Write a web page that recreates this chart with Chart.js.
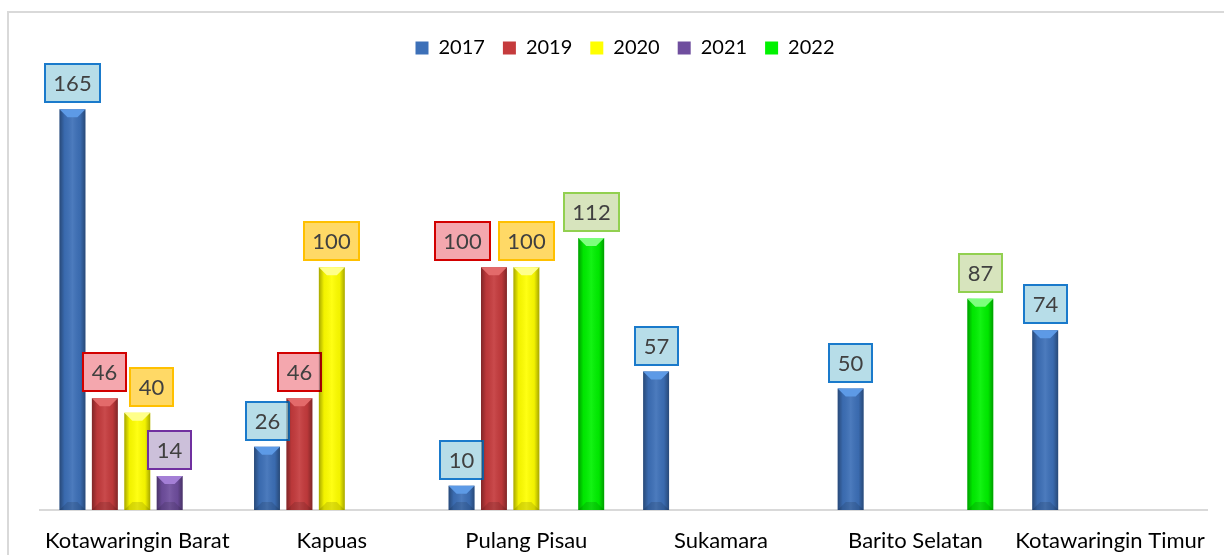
<!DOCTYPE html>
<html>
<head>
<meta charset="utf-8">
<script src="https://cdn.jsdelivr.net/npm/chart.js@4.4.0/dist/chart.umd.min.js"></script>
<style>
  html, body { margin: 0; padding: 0; background: #fff; }
  #wrap { position: relative; width: 1224px; height: 555px; overflow: hidden; }
  #frame { position: absolute; left: 7px; top: 11px; width: 1300px; height: 700px;
           border-left: 2px solid #d9d9d9; border-top: 2px solid #d9d9d9; }
  #mycanvas { position: absolute; left: 0; top: 0; }
</style>
</head>
<body>
<div id="wrap">
  <div id="frame"></div>
  <canvas id="mycanvas" width="1224" height="555"></canvas>
</div>
<script>
// data
var regions = ["Kotawaringin Barat", "Kapuas", "Pulang Pisau", "Sukamara", "Barito Selatan", "Kotawaringin Timur"];
var years = ["2017", "2019", "2020", "2021", "2022"];
var v2017 = [165, 26, 10, 57, 50, 74];
var v2019 = [46, 46, 100, null, null, null];
var v2020 = [40, 100, 100, null, null, null];
var v2021 = [14, null, null, null, null, null];
var v2022 = [null, null, 112, null, 87, null];

// warna batang + kotak label
var barColors = ["#3d70b8", "#c53b3d", "#ffff00", "#6f4e9e", "#00f200"];
var bevelColors = ["#5d9ae6", "#e36a6a", "#ffff8a", "#a47fd6", "#7dff7d"];
var boxFill = ["#b7dde8", "#f4a7ae", "#ffd966", "#ccc0da", "#d7e4bd"];
var boxLine = ["#1a7acb", "#d20000", "#ffc000", "#7030a0", "#92d050"];

var series = [v2017, v2019, v2020, v2021, v2022];
var datasets = [];
for (var i in series) {
  datasets.push({
    label: years[i],
    data: series[i],
    backgroundColor: barColors[i],
    borderWidth: 0,
    barPercentage: 0.8,
    categoryPercentage: 0.833
  });
}

var fontName = "Lato, 'Liberation Sans', sans-serif";

// beberapa label digeser supaya tidak menumpuk (seperti di excel)
function labelShift(di, j) {
  if (di === 1 && j === 2) return -31;
  if (di === 2 && j === 0) return 14;
  return 0;
}

// efek 3D sederhana + kotak nilai di atas batang
var barDecor = {
  id: 'barDecor',
  afterDatasetsDraw: function(chart) {
    var ctx = chart.ctx;
    chart.data.datasets.forEach(function(ds, di) {
      var meta = chart.getDatasetMeta(di);
      meta.data.forEach(function(bar, j) {
        if (ds.data[j] === null) return;
        var x = bar.x, y = bar.y, w = bar.width, b = bar.base;
        var l = x - w / 2, r = x + w / 2;
        var bv = Math.min(8, (b - y) / 2);
        ctx.save();
        // sisi gelap kiri/kanan
        var g = ctx.createLinearGradient(l, 0, r, 0);
        g.addColorStop(0, 'rgba(0,0,0,0.35)');
        g.addColorStop(0.2, 'rgba(0,0,0,0.05)');
        g.addColorStop(0.5, 'rgba(255,255,255,0.08)');
        g.addColorStop(0.8, 'rgba(0,0,0,0.05)');
        g.addColorStop(1, 'rgba(0,0,0,0.35)');
        ctx.fillStyle = g;
        ctx.fillRect(l, y, w, b - y);
        // bevel atas
        ctx.fillStyle = bevelColors[di];
        ctx.beginPath();
        ctx.moveTo(l, y);
        ctx.lineTo(r, y);
        ctx.lineTo(r - bv, y + bv);
        ctx.lineTo(l + bv, y + bv);
        ctx.closePath();
        ctx.fill();
        // bawah agak gelap
        ctx.fillStyle = 'rgba(0,0,0,0.12)';
        ctx.beginPath();
        ctx.moveTo(l, b);
        ctx.lineTo(r, b);
        ctx.lineTo(r - bv, b - bv);
        ctx.lineTo(l + bv, b - bv);
        ctx.closePath();
        ctx.fill();

        // kotak label
        var txt = String(ds.data[j]);
        ctx.font = "22px " + fontName;
        var tw = ctx.measureText(txt).width;
        var bw = Math.round(tw + 17), bh = 38;
        var cx = x + labelShift(di, j);
        var by = Math.round(y - 7 - bh);
        var bx = Math.round(cx - bw / 2);
        ctx.fillStyle = boxFill[di];
        ctx.fillRect(bx, by, bw, bh);
        ctx.strokeStyle = boxLine[di];
        ctx.lineWidth = 2;
        ctx.strokeRect(bx, by, bw, bh);
        ctx.fillStyle = '#404040';
        ctx.textAlign = 'center';
        ctx.textBaseline = 'middle';
        ctx.fillText(txt, bx + bw / 2, by + bh / 2 + 1);
        ctx.restore();
      });
    });
  }
};

var chartdata = { labels: regions, datasets: datasets };

var ctx = document.getElementById("mycanvas");
var barGraph = new Chart(ctx, {
  type: 'bar',
  data: chartdata,
  plugins: [barDecor],
  options: {
    responsive: false,
    animation: false,
    devicePixelRatio: 1,
    layout: { padding: { left: 40, right: 14, top: 20, bottom: 0 } },
    plugins: {
      tooltip: { enabled: false },
      legend: {
        position: 'top',
        labels: {
          boxWidth: 13,
          boxHeight: 13,
          padding: 18,
          color: '#000',
          font: { family: fontName, size: 20 }
        }
      }
    },
    scales: {
      x: {
        grid: { display: false, drawTicks: false },
        border: { display: true, color: '#d9d9d9', width: 2 },
        ticks: {
          color: '#000', padding: 18, autoSkip: false, maxRotation: 0, minRotation: 0,
          font: { family: fontName, size: 22 }
        },
        afterFit: function(scale) { scale.height = 45; }
      },
      y: {
        display: false,
        min: 0,
        max: 182
      }
    }
  }
});
</script>
</body>
</html>
